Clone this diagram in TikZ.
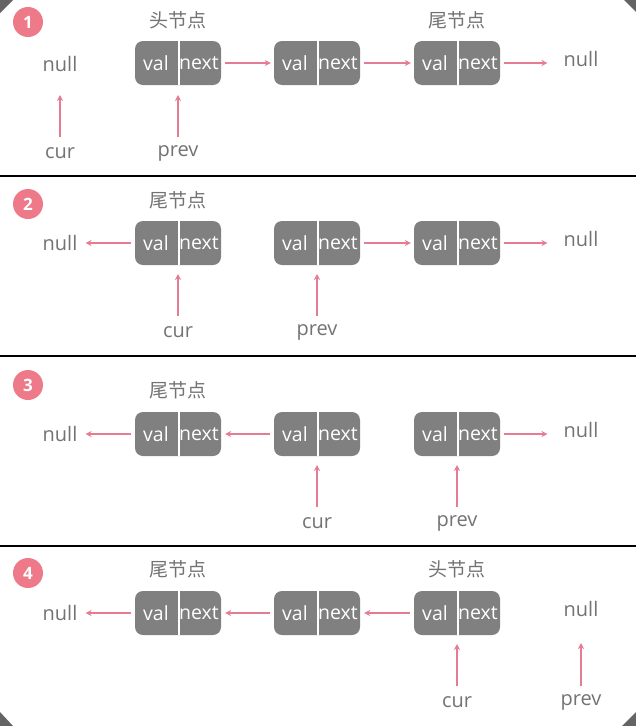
\documentclass[tikz,border=0pt]{standalone}
\usepackage{fontspec}
\setmainfont{Open Sans}
\newfontfamily\cjk{Noto Sans CJK SC}
\usetikzlibrary{arrows.meta}
\definecolor{pinkc}{RGB}{230,124,145}
\definecolor{badgec}{RGB}{238,122,137}
\definecolor{boxc}{RGB}{128,128,128}
\definecolor{txtc}{RGB}{115,115,115}
\definecolor{cornerc}{RGB}{100,100,100}
\tikzset{
  cell/.style={fill=boxc, rounded corners=8pt, minimum width=86pt, minimum height=44pt, inner sep=0pt},
  celltxt/.style={text=white, inner sep=0pt, font=\fontsize{19.5}{22}\selectfont},
  lbl/.style={text=txtc, inner sep=0pt, font=\fontsize{20}{22}\selectfont},
  title/.style={text=txtc, inner sep=0pt, font=\cjk\fontsize{19}{22}\selectfont},
  badge/.style={circle, fill=badgec, minimum size=30pt, inner sep=0pt, text=white, font=\bfseries\fontsize{17}{20}\selectfont},
  arr/.style={draw=pinkc, line width=1.2pt, -{Stealth[length=6pt,width=6pt]}},
  sep/.style={draw=black, line width=1.5pt},
  divider/.style={draw=white, line width=1.2pt}
}
\newcommand\llcell[3]{%
  \node[cell] (#1) at (#2,#3) {};
  \draw[divider] ([xshift=1pt]#1.north) -- ([xshift=1pt]#1.south);
  \node[celltxt] (#1v) at ([xshift=-22pt]#1.center) {val};
  \node[celltxt] (#1n) at ([xshift=21pt]#1.center) {next};
}
\begin{document}
\begin{tikzpicture}[x=1pt,y=-1pt]
\useasboundingbox (0,0) rectangle (636,726);
\fill[white] (0,0) rectangle (636,726);
% corner triangles
\fill[cornerc] (0,0) -- (13,0) -- (0,13) -- cycle;
\fill[cornerc] (624,0) -- (636,0) -- (636,12) -- cycle;
\fill[cornerc] (0,712) -- (0,726) -- (13,726) -- cycle;
\fill[cornerc] (636,712) -- (636,726) -- (622,726) -- cycle;
% separators
\draw[sep] (0,176) -- (636,176);
\draw[sep] (0,356) -- (636,356);
\draw[sep] (0,546) -- (636,546);

% ---------- Panel 1 ----------
\node[badge] (bd1) at (28,22) {1};
\node[title] (h1) at (178,20) {头节点};
\node[title] (t1) at (457,20) {尾节点};
\llcell{a1}{178}{63}
\llcell{a2}{317}{63}
\llcell{a3}{457}{63}
\node[lbl] (nl1) at (60,64) {null};
\node[lbl] (nr1) at (581,59) {null};
\node[lbl] (cur1) at (60,153) {cur};
\node[lbl] (prev1) at (178,153) {prev};
\draw[arr, shorten <=4pt, shorten >=3pt] (a1.east) -- (a2.west);
\draw[arr, shorten <=4pt, shorten >=3pt] (a2.east) -- (a3.west);
\draw[arr, shorten <=4pt, shorten >=16pt] (a3.east) -- (nr1.west |- a3.east);
\draw[arr, shorten <=16pt, shorten >=31pt] (cur1.center) -- (nl1.center);
\draw[arr, shorten <=16pt, shorten >=32pt] (prev1.center) -- (a1.center);

% ---------- Panel 2 ----------
\node[badge] (bd2) at (28,204) {2};
\node[title] (t2) at (178,200) {尾节点};
\llcell{b1}{178}{243}
\llcell{b2}{317}{243}
\llcell{b3}{457}{243}
\node[lbl] (nl2) at (60,243) {null};
\node[lbl] (nr2) at (581,239) {null};
\node[lbl] (cur2) at (178,332) {cur};
\node[lbl] (prev2) at (317,332) {prev};
\draw[arr, shorten <=4pt, shorten >=8pt] (b1.west) -- (nl2.east |- b1.west);
\draw[arr, shorten <=4pt, shorten >=3pt] (b2.east) -- (b3.west);
\draw[arr, shorten <=4pt, shorten >=16pt] (b3.east) -- (nr2.west |- b3.east);
\draw[arr, shorten <=16pt, shorten >=31pt] (cur2.center) -- (b1.center);
\draw[arr, shorten <=16pt, shorten >=31pt] (prev2.center) -- (b2.center);

% ---------- Panel 3 ----------
\node[badge] (bd3) at (28,385) {3};
\node[title] (t3) at (178,390) {尾节点};
\llcell{c1}{178}{434}
\llcell{c2}{317}{434}
\llcell{c3}{457}{434}
\node[lbl] (nl3) at (60,434) {null};
\node[lbl] (nr3) at (581,430) {null};
\node[lbl] (cur3) at (317,523) {cur};
\node[lbl] (prev3) at (457,523) {prev};
\draw[arr, shorten <=4pt, shorten >=8pt] (c1.west) -- (nl3.east |- c1.west);
\draw[arr, shorten <=4pt, shorten >=4pt] (c2.west) -- (c1.east);
\draw[arr, shorten <=4pt, shorten >=16pt] (c3.east) -- (nr3.west |- c3.east);
\draw[arr, shorten <=16pt, shorten >=31pt] (cur3.center) -- (c2.center);
\draw[arr, shorten <=16pt, shorten >=31pt] (prev3.center) -- (c3.center);

% ---------- Panel 4 ----------
\node[badge] (bd4) at (28,573) {4};
\node[title] (t4) at (178,569) {尾节点};
\node[title] (h4) at (457,569) {头节点};
\llcell{d1}{178}{613}
\llcell{d2}{317}{613}
\llcell{d3}{457}{613}
\node[lbl] (nl4) at (60,613) {null};
\node[lbl] (nr4) at (581,609) {null};
\node[lbl] (cur4) at (457,702) {cur};
\node[lbl] (prev4) at (581,702) {prev};
\draw[arr, shorten <=4pt, shorten >=8pt] (d1.west) -- (nl4.east |- d1.west);
\draw[arr, shorten <=4pt, shorten >=4pt] (d2.west) -- (d1.east);
\draw[arr, shorten <=4pt, shorten >=4pt] (d3.west) -- (d2.east);
\draw[arr, shorten <=16pt, shorten >=31pt] (cur4.center) -- (d3.center);
\draw[arr, shorten <=16pt, shorten >=34pt] (prev4.center) -- (nr4.center);
\end{tikzpicture}
\end{document}
